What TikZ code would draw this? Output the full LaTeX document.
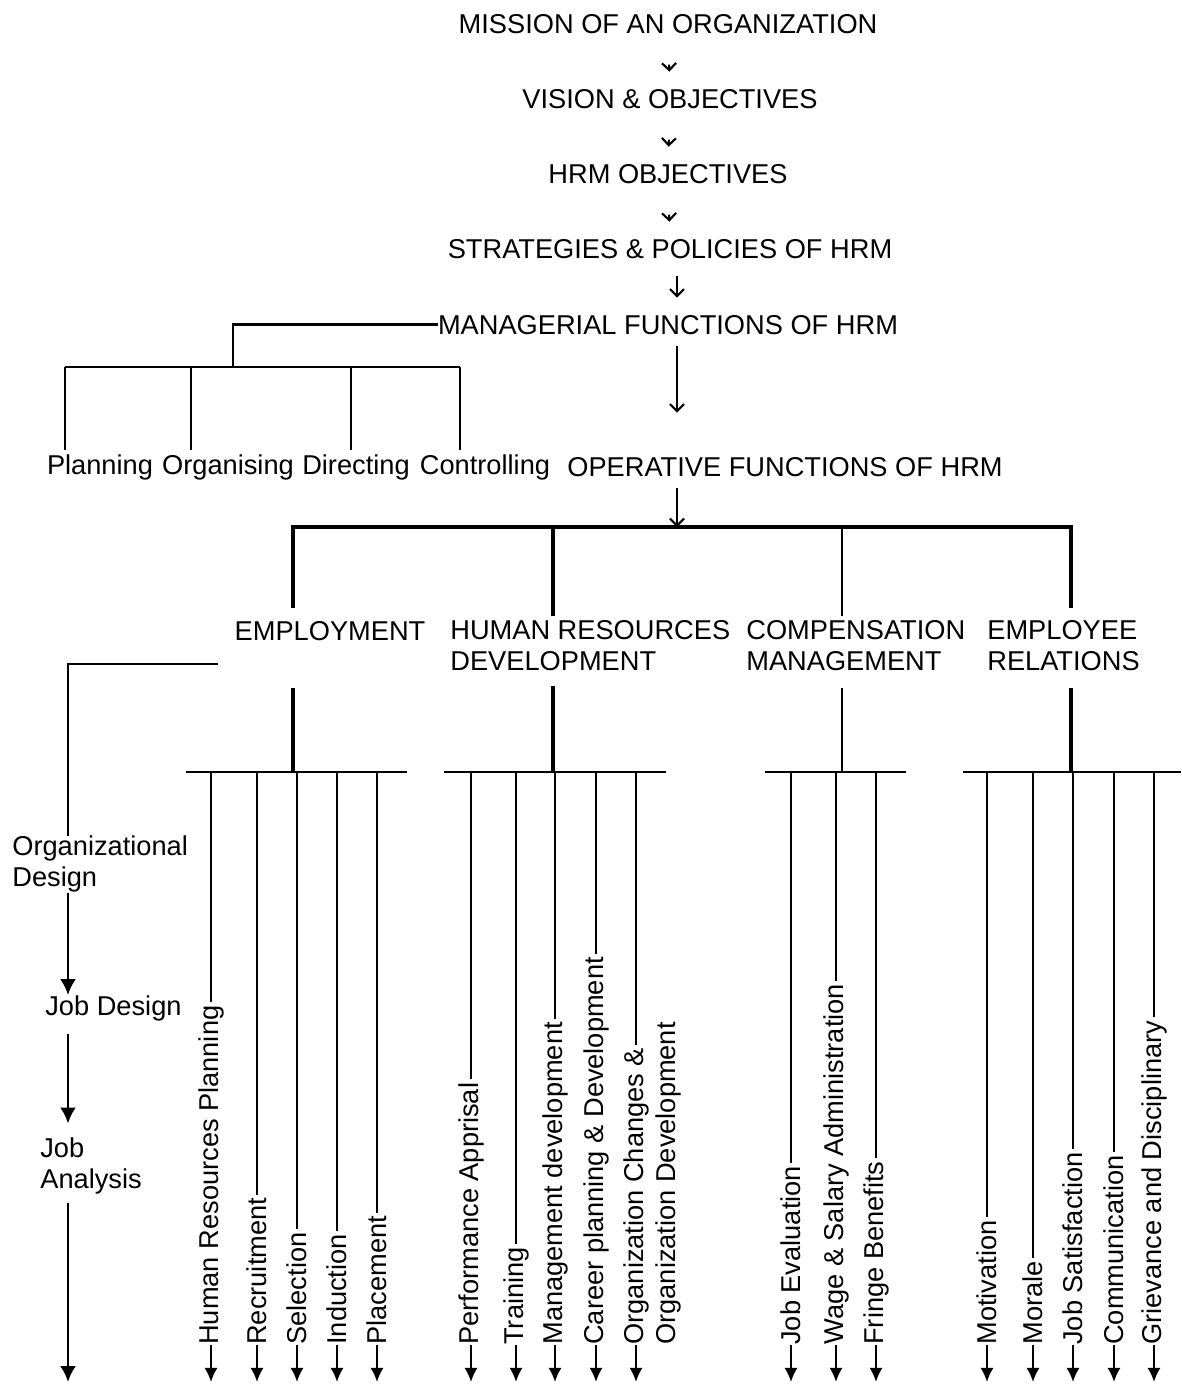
\documentclass[tikz,border=0pt]{standalone}
\usepackage{fontspec}
\setmainfont{Liberation Sans}
\usetikzlibrary{arrows.meta}
\tikzset{
	every node/.style = {
		inner sep=0pt,
		font=\fontsize{15.5}{17.6}\selectfont
	},
	title/.style = {anchor=base},
	grp/.style = {anchor=west, align=left},
	leaf/.style = {rotate=90, anchor=west},
	ln/.style = {line width=1.2pt},
	mid/.style = {line width=1.6pt},
	thk/.style = {line width=2.4pt},
	vtip/.style = {line width=1.2pt, -{Straight Barb[length=4pt,width=8pt]}},
	arr/.style = {line width=1.3pt, -{Latex[length=8pt,width=7.5pt]}},
	bigarr/.style = {line width=1.5pt, -{Latex[length=9pt,width=9pt]}}
}

\begin{document}
\begin{tikzpicture}[x=0.02cm, y=-0.02cm]
	\useasboundingbox (0,0) rectangle (1181,1384);

	\node[title] (mission) at (668,33) {MISSION OF AN ORGANIZATION};
	\node[title] (vision) at (670,108) {VISION \& OBJECTIVES};
	\node[title] (hrmobj) at (668,183) {HRM OBJECTIVES};
	\node[title] (strat) at (670,258) {STRATEGIES \& POLICIES OF HRM};
	\node[title] (mgr) at (668,334) {MANAGERIAL FUNCTIONS OF HRM};
	\node[title] (oper) at (785,476) {OPERATIVE FUNCTIONS OF HRM};

	\node[title] (plan) at (100,474) {Planning};
	\node[title] (org) at (228,474) {Organising};
	\node[title] (dir) at (356,474) {Directing};
	\node[title] (ctrl) at (485,474) {Controlling};

	\node[title] (emp) at (330,640) {EMPLOYMENT};
	\node[grp] (hrd) at (450,646) {HUMAN RESOURCES\\DEVELOPMENT};
	\node[grp] (comp) at (746,646) {COMPENSATION\\MANAGEMENT};
	\node[grp] (er) at (987,646) {EMPLOYEE\\RELATIONS};

	\node[grp] (orgdes) at (12,864) {Organizational\\Design};
	\node[grp] (jobdes) at (45,1008) {Job Design};
	\node[grp] (jobana) at (40,1166) {Job\\Analysis};

	\coordinate (ax) at (677,0);
	\coordinate (bot) at (0,1382);

	\draw[vtip, shorten <=0.62cm, shorten >=0.34cm] (mission.south) -- (vision.north);
	\draw[vtip, shorten <=0.62cm, shorten >=0.34cm] (vision.south) -- (hrmobj.north);
	\draw[vtip, shorten <=0.62cm, shorten >=0.34cm] (hrmobj.south) -- (strat.north);
	\draw[vtip, shorten <=0.34cm, shorten >=0.34cm] (strat.south -| ax) -- (mgr.north -| ax);
	\draw[vtip, shorten <=0.22cm, shorten >=0.88cm] (mgr.south -| ax) -- (oper.north -| ax);

	\coordinate (mj) at (233,367);
	\coordinate (p1) at (65,367);
	\coordinate (p2) at (191,367);
	\coordinate (p3) at (351,367);
	\coordinate (p4) at (460,367);
	\draw[mid] (mgr.west) -| (mj);
	\draw[mid] (p1) -- (p4);
	\draw[mid, shorten >=0.08cm] (p1) -- (p1 |- plan.north);
	\draw[mid, shorten >=0.08cm] (p2) -- (p2 |- org.north);
	\draw[mid, shorten >=0.08cm] (p3) -- (p3 |- dir.north);
	\draw[mid, shorten >=0.08cm] (p4) -- (p4 |- ctrl.north);

	\coordinate (o1) at (293,527);
	\coordinate (o2) at (553,527);
	\coordinate (o3) at (842,527);
	\coordinate (o4) at (1071,527);
	\draw[vtip, shorten <=0.22cm] (oper.south -| ax) -- (ax |- o1);
	\draw[thk, shorten <=0.26cm, shorten >=0.26cm] (o1 |- emp.north) -- (o1) -- (o4) -- (o4 |- er.north);
	\draw[thk, shorten >=0.1cm] (o2) -- (o2 |- hrd.north);
	\draw[ln, shorten >=0.1cm] (o3) -- (o3 |- comp.north);

	\coordinate (s1) at (293,772);
	\coordinate (s2) at (553,772);
	\coordinate (s3) at (842,772);
	\coordinate (s4) at (1071,772);
	\draw[thk, shorten <=0.34cm] (s1 |- hrd.south) -- (s1);
	\draw[thk, shorten <=0.3cm] (s2 |- hrd.south) -- (s2);
	\draw[ln, shorten <=0.34cm] (s3 |- hrd.south) -- (s3);
	\draw[thk, shorten <=0.34cm] (s4 |- hrd.south) -- (s4);
	\draw[mid] (186,772) -- (407,772);
	\draw[mid] (444,772) -- (666,772);
	\draw[mid] (765,772) -- (906,772);
	\draw[mid] (963,772) -- (1181,772);

	\coordinate (lj) at (218,664);
	\coordinate (lc) at (68,664);
	\draw[ln] (lj) -- (lc) -- (lc |- orgdes.north);
	\draw[bigarr] (lc |- orgdes.south) -- (lc |- jobdes.north);
	\draw[bigarr, shorten <=0.26cm, shorten >=0.28cm] (lc |- jobdes.south) -- (lc |- jobana.north);
	\draw[bigarr, shorten <=0.16cm] (lc |- jobana.south) -- (lc |- bot);

	\node[leaf] (hrp) at (211,1345) {Human Resources Planning};
	\node[leaf] (rec) at (257,1345) {Recruitment};
	\node[leaf] (sel) at (297,1345) {Selection};
	\node[leaf] (ind) at (337,1345) {Induction};
	\node[leaf] (plc) at (377,1345) {Placement};
	\node[leaf] (pa) at (471,1345) {Performance Apprisal};
	\node[leaf] (trn) at (516,1345) {Training};
	\node[leaf] (md) at (555,1345) {Management development};
	\node[leaf] (cpd) at (596,1345) {Career planning \& Development};
	\node[leaf] (occ) at (636,1345) {Organization Changes \&};
	\node[leaf] (ocd) at (668,1345) {Organization Development};
	\node[leaf] (je) at (791,1345) {Job Evaluation};
	\node[leaf] (wsa) at (836,1345) {Wage \& Salary Administration};
	\node[leaf] (fb) at (876,1345) {Fringe Benefits};
	\node[leaf] (mot) at (987,1345) {Motivation};
	\node[leaf] (mor) at (1033,1345) {Morale};
	\node[leaf] (js) at (1073,1345) {Job Satisfaction};
	\node[leaf] (com) at (1114,1345) {Communication};
	\node[leaf] (gd) at (1154,1345) {Grievance and Disciplinary};

	\draw[ln, shorten >=0.06cm] (hrp.east |- s1) -- (hrp.east);
	\draw[ln, shorten >=0.06cm] (rec.east |- s1) -- (rec.east);
	\draw[ln, shorten >=0.06cm] (sel.east |- s1) -- (sel.east);
	\draw[ln, shorten >=0.06cm] (ind.east |- s1) -- (ind.east);
	\draw[ln, shorten >=0.06cm] (plc.east |- s1) -- (plc.east);
	\draw[ln, shorten >=0.06cm] (pa.east |- s2) -- (pa.east);
	\draw[ln, shorten >=0.06cm] (trn.east |- s2) -- (trn.east);
	\draw[ln, shorten >=0.06cm] (md.east |- s2) -- (md.east);
	\draw[ln, shorten >=0.06cm] (cpd.east |- s2) -- (cpd.east);
	\draw[ln, shorten >=0.06cm] (occ.east |- s2) -- (occ.east);
	\draw[ln, shorten >=0.06cm] (je.east |- s3) -- (je.east);
	\draw[ln, shorten >=0.06cm] (wsa.east |- s3) -- (wsa.east);
	\draw[ln, shorten >=0.06cm] (fb.east |- s3) -- (fb.east);
	\draw[ln, shorten >=0.06cm] (mot.east |- s4) -- (mot.east);
	\draw[ln, shorten >=0.06cm] (mor.east |- s4) -- (mor.east);
	\draw[ln, shorten >=0.06cm] (js.east |- s4) -- (js.east);
	\draw[ln, shorten >=0.06cm] (com.east |- s4) -- (com.east);
	\draw[ln, shorten >=0.06cm] (gd.east |- s4) -- (gd.east);

	\draw[arr] (hrp.west) -- (hrp.west |- bot);
	\draw[arr] (rec.west) -- (rec.west |- bot);
	\draw[arr] (sel.west) -- (sel.west |- bot);
	\draw[arr] (ind.west) -- (ind.west |- bot);
	\draw[arr] (plc.west) -- (plc.west |- bot);
	\draw[arr] (pa.west) -- (pa.west |- bot);
	\draw[arr] (trn.west) -- (trn.west |- bot);
	\draw[arr] (md.west) -- (md.west |- bot);
	\draw[arr] (cpd.west) -- (cpd.west |- bot);
	\draw[arr] (occ.west) -- (occ.west |- bot);
	\draw[arr] (je.west) -- (je.west |- bot);
	\draw[arr] (wsa.west) -- (wsa.west |- bot);
	\draw[arr] (fb.west) -- (fb.west |- bot);
	\draw[arr] (mot.west) -- (mot.west |- bot);
	\draw[arr] (mor.west) -- (mor.west |- bot);
	\draw[arr] (js.west) -- (js.west |- bot);
	\draw[arr] (com.west) -- (com.west |- bot);
	\draw[arr] (gd.west) -- (gd.west |- bot);
\end{tikzpicture}
\end{document}
